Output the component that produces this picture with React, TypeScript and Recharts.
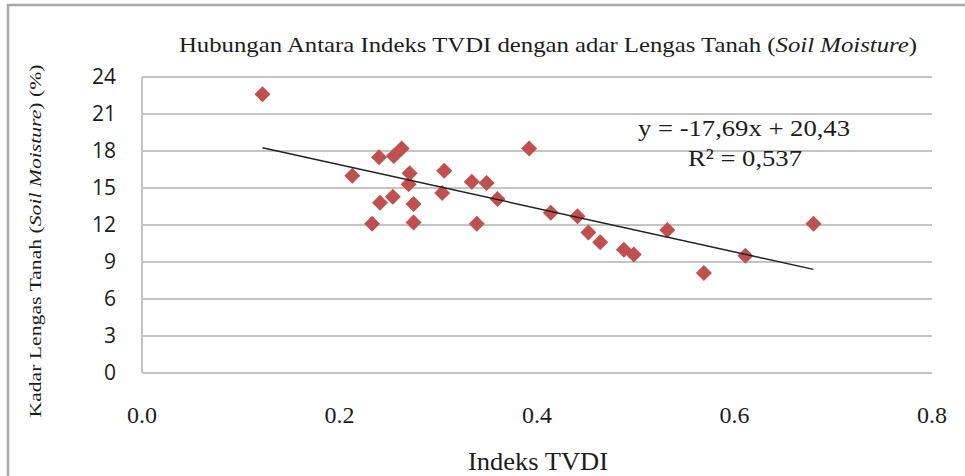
import React from "react";
import { ScatterChart, Scatter, XAxis, YAxis, CartesianGrid } from "recharts";

// Indeks TVDI vs Kadar Lengas Tanah (%)
const tvdi = [
  0.122, 0.213, 0.233, 0.24, 0.241, 0.254, 0.255, 0.263, 0.27, 0.271,
  0.275, 0.275, 0.304, 0.306, 0.334, 0.339, 0.349, 0.36, 0.392, 0.414,
  0.441, 0.452, 0.464, 0.488, 0.498, 0.532, 0.569, 0.611, 0.68,
];
const soilMoisture = [
  22.6, 16.0, 12.1, 17.5, 13.8, 14.3, 17.6, 18.2, 15.3, 16.2,
  13.7, 12.2, 14.6, 16.4, 15.5, 12.1, 15.4, 14.1, 18.2, 13.0,
  12.7, 11.4, 10.6, 10.0, 9.6, 11.6, 8.1, 9.5, 12.1,
];
const xTicks = [0, 0.2, 0.4, 0.6, 0.8];
const yTicks = [0, 3, 6, 9, 12, 15, 18, 21, 24];

// linear trend from the figure
const slope = -17.69;
const intercept = 20.43;

const points = tvdi.map((x, i) => ({ x, y: soilMoisture[i] }));
const trend = [Math.min(...tvdi), Math.max(...tvdi)].map((x) => ({
  x,
  y: slope * x + intercept,
}));

const W = 965;
const H = 476;
const serif = "'Liberation Serif', 'DejaVu Serif', serif";
const ink = "#1c1c1c";

const Diamond = (props: any) => {
  const { cx, cy } = props;
  const r = 8;
  return (
    <path
      d={`M${cx},${cy - r}L${cx + r},${cy}L${cx},${cy + r}L${cx - r},${cy}Z`}
      fill="#c0504d"
    />
  );
};

const NoDot = () => <g />;

export default function App() {
  return (
    <div style={{ position: "absolute", left: 0, top: 0, width: W, height: H, background: "#fff", overflow: "hidden" }}>
      <ScatterChart
        width={W}
        height={H}
        margin={{ top: 77, right: 33, bottom: 43, left: 2 }}
      >
        <CartesianGrid horizontal vertical={false} stroke="#c4c4c4" strokeWidth={2} />
        <XAxis
          type="number"
          dataKey="x"
          domain={[0, 0.8]}
          ticks={xTicks}
          tickFormatter={(v: number) => v.toFixed(1)}
          height={60}
          axisLine={{ stroke: "#c4c4c4", strokeWidth: 2 }}
          tickLine={false}
          tickSize={0}
          tickMargin={33}
          tick={{ fill: ink, fontSize: 24, fontFamily: serif }}
        />
        <YAxis
          type="number"
          dataKey="y"
          domain={[0, 24]}
          ticks={yTicks}
          width={140}
          axisLine={{ stroke: "#c4c4c4", strokeWidth: 2 }}
          tickLine={false}
          tickSize={0}
          tickMargin={26}
          tick={{ fill: ink, fontSize: 21, fontFamily: "'Open Sans', sans-serif" }}
        />
        <Scatter data={points} shape={Diamond} isAnimationActive={false} />
        <Scatter
          data={trend}
          line={{ stroke: "#222", strokeWidth: 1.5 }}
          shape={NoDot}
          isAnimationActive={false}
        />
      </ScatterChart>
      <svg
        width={W}
        height={H}
        style={{ position: "absolute", left: 0, top: 0, pointerEvents: "none" }}
      >
        <path d={`M8,${H}L8,5L${W},5`} fill="none" stroke="#a8a8a8" strokeWidth={2.5} />
        <text
          x={548}
          y={52}
          textAnchor="middle"
          fontFamily={serif}
          fontSize={22}
          fill={ink}
          textLength={738}
          lengthAdjust="spacingAndGlyphs"
        >
          Hubungan Antara Indeks TVDI dengan adar Lengas Tanah (<tspan fontStyle="italic">Soil Moisture</tspan>)
        </text>
        <text
          transform="translate(41,241) rotate(-90)"
          textAnchor="middle"
          fontFamily={serif}
          fontSize={17}
          fill={ink}
          textLength={353}
          lengthAdjust="spacingAndGlyphs"
        >
          Kadar Lengas Tanah (<tspan fontStyle="italic">Soil Moisture</tspan>) (%)
        </text>
        <text
          x={538}
          y={470}
          textAnchor="middle"
          fontFamily={serif}
          fontSize={25}
          fill={ink}
          textLength={140}
          lengthAdjust="spacingAndGlyphs"
        >
          Indeks TVDI
        </text>
        <text x={744} y={136} textAnchor="middle" fontFamily={serif} fontSize={24} fill={ink} textLength={212} lengthAdjust="spacingAndGlyphs">
          y = -17,69x + 20,43
        </text>
        <text x={745} y={166} textAnchor="middle" fontFamily={serif} fontSize={24} fill={ink} textLength={114} lengthAdjust="spacingAndGlyphs">
          R² = 0,537
        </text>
      </svg>
    </div>
  );
}
